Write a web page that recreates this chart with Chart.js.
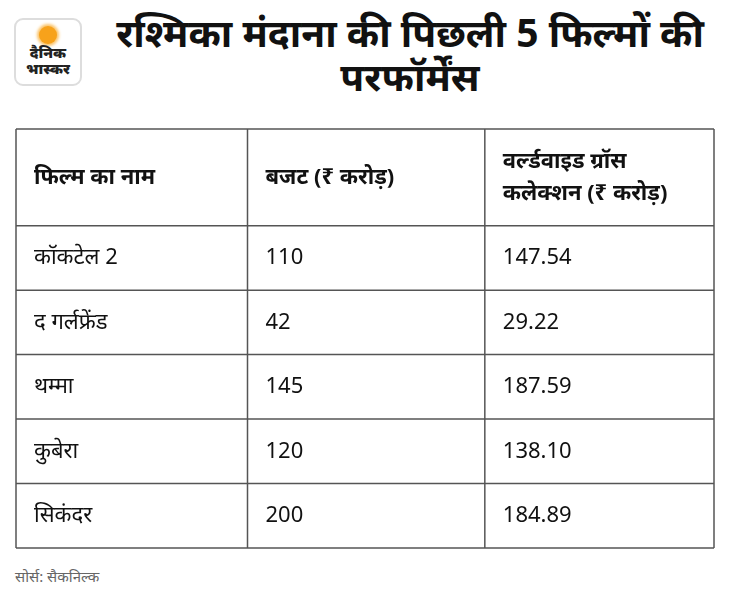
<!DOCTYPE html>
<html><head><meta charset="utf-8">
<script src="https://cdn.jsdelivr.net/npm/chart.js@4"></script>
<style>
body{margin:0;width:730px;height:612px;background:#fff;font-family:"Noto Sans","Noto Sans CJK SC",sans-serif;position:relative;overflow:hidden}
#logo{position:absolute;left:14px;top:18px;width:68px;height:68px;border-radius:9px;background:#fff;border:2px solid #ddd;box-sizing:border-box}
#sun{position:absolute;left:23px;top:6px;width:18px;height:18px;border-radius:50%;background:#f7a21b;box-shadow:0 0 3px 2px #fbc46a}
#lt{position:absolute;left:0;width:64px;top:24px;text-align:center;color:#222;font-weight:900;font-size:15px;line-height:16px}
#title{position:absolute;left:90px;width:640px;top:10px;text-align:center;font-weight:bold;font-size:39px;line-height:44px;color:#111}
#wrap{position:absolute;left:15px;top:128px;width:700px;height:421px}
#src{position:absolute;left:15px;top:566px;font-size:15px;color:#666}
</style></head><body>
<div id="logo"><div id="sun"></div><div id="lt">दैनिक<br>भास्कर</div></div>
<div id="title">रश्मिका मंदाना की पिछली 5 फिल्मों की<br>परफॉर्मेंस</div>
<div id="wrap"><canvas id="c"></canvas></div>
<div id="src">सोर्स: सैकनिल्क</div>
<script>
const headers=[["फिल्म का नाम"],["बजट (₹ करोड़)"],["वर्ल्डवाइड ग्रॉस","कलेक्शन (₹ करोड़)"]];
const films=["कॉकटेल 2","द गर्लफ्रेंड","थम्मा","कुबेरा","सिकंदर"];
const budget=["110","42","145","120","200"];
const gross=["147.54","29.22","187.59","138.10","184.89"];
const colEdges=[0,0.995,2.015,3];
const rowEdges=[0,1.5,2.5,3.5,4.5,5.5,6.5];
const tablePlugin={id:'tbl',afterDraw(ch){
 const c=ch.ctx,x=ch.scales.x,y=ch.scales.y;
 const X=v=>x.getPixelForValue(v),Y=v=>y.getPixelForValue(v);
 c.save();c.strokeStyle='#555';c.lineWidth=1.5;
 colEdges.forEach(v=>{c.beginPath();c.moveTo(X(v),Y(0));c.lineTo(X(v),Y(6.5));c.stroke();});
 rowEdges.forEach(v=>{c.beginPath();c.moveTo(X(0),Y(v));c.lineTo(X(3),Y(v));c.stroke();});
 c.fillStyle='#111';c.textBaseline='middle';
 c.font='bold 22px "Noto Sans"';
 headers.forEach((h,i)=>{const cy=(Y(0)+Y(1.5))/2;h.forEach((t,k)=>c.fillText(t,X(colEdges[i])+18,cy+(k-(h.length-1)/2)*32));});
 c.font='22px "Noto Sans"';
 const cols=[films,budget,gross];
 cols.forEach((arr,i)=>arr.forEach((t,r)=>c.fillText(t,X(colEdges[i])+18,(Y(rowEdges[r+1])+Y(rowEdges[r+2]))/2)));
 c.restore();
}};
new Chart(document.getElementById('c'),{type:'scatter',data:{datasets:[{data:[]}]},
options:{responsive:true,maintainAspectRatio:false,animation:false,layout:{padding:1},
plugins:{legend:{display:false},tooltip:{enabled:false}},
scales:{x:{type:'linear',min:0,max:3,display:false},y:{type:'linear',min:0,max:6.5,reverse:true,display:false}}},
plugins:[tablePlugin]});
</script></body></html>
